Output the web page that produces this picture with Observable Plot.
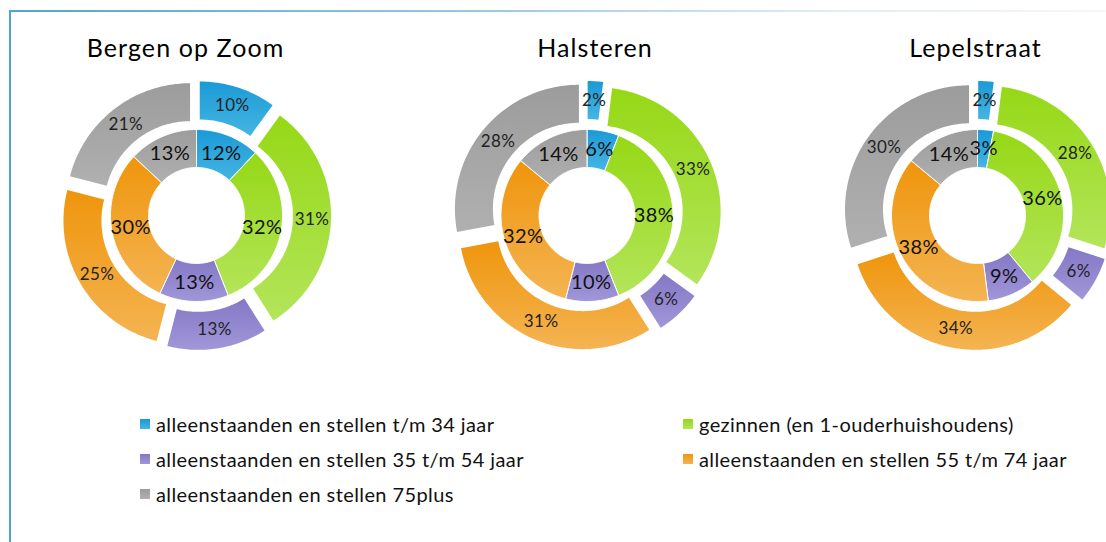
<!DOCTYPE html>
<html><head><meta charset="utf-8">
<script src="https://cdn.jsdelivr.net/npm/d3@7"></script>
<script src="https://cdn.jsdelivr.net/npm/@observablehq/plot@0.6"></script>
<style>
html,body{margin:0;padding:0;background:#fff;}
#wrap{position:relative;width:1106px;height:542px;overflow:hidden;background:#fff;font-family:Lato,"Open Sans",sans-serif;}
#frameL{position:absolute;left:9px;top:10px;width:2px;height:540px;background:#4ea7cb;}
#frameT{position:absolute;left:9px;top:10px;width:1097px;height:2px;background:linear-gradient(to right,#4ea7cb,#9ccbe0 45%,#e3edf2 75%,#f7f7f7);}
#chart{position:absolute;left:0;top:0;}
#legend{position:absolute;left:140px;top:412px;display:grid;grid-template-columns:543px auto;row-gap:11px;font-size:20px;letter-spacing:0.4px;color:#111;}
.item{display:flex;align-items:center;height:24px;white-space:nowrap;}
.sw{width:10px;height:10px;margin-right:6px;flex:none;}
</style></head>
<body>
<div id="wrap">
  <div id="frameL"></div><div id="frameT"></div>
  <div id="chart"></div>
  <div id="legend"></div>
</div>
<script>
// ---- data ----
const towns = ["Bergen op Zoom", "Halsteren", "Lepelstraat"];
const categories = [
  "alleenstaanden en stellen t/m 34 jaar",
  "gezinnen (en 1-ouderhuishoudens)",
  "alleenstaanden en stellen 35 t/m 54 jaar",
  "alleenstaanden en stellen 55 t/m 74 jaar",
  "alleenstaanden en stellen 75plus"
];
const innerBergen = [12, 32, 13, 30, 13];
const outerBergen = [10, 31, 13, 25, 21];
const innerHalsteren = [6, 38, 10, 32, 14];
const outerHalsteren = [2, 33, 6, 31, 28];
const innerLepelstraat = [3, 36, 9, 38, 14];
const outerLepelstraat = [2, 28, 6, 34, 30];
const colors = ["#25a3dc", "#a2dc34", "#9388d0", "#f1a12c", "#a6a6a6"];
const colorsTop = ["#1b9ad6", "#96d816", "#8577c6", "#ef950c", "#9c9c9c"];
const colorsBottom = ["#45b5e3", "#b3e55a", "#a097d8", "#f4b452", "#b0b0b0"];

const innerValues = [innerBergen, innerHalsteren, innerLepelstraat];
const outerValues = [outerBergen, outerHalsteren, outerLepelstraat];

// ---- layout (px) ----
const W = 1106, H = 380;
const k = 124;                 // px per radius unit
const cx0 = 196, cy0 = 215;    // first donut centre
const spacing = 390.5 / k;     // distance between donut centres
const rHole = 48 / k, rMid = 86 / k, rOut = 1, explode = 10.5 / k;
const titleY = (48 - cy0) / k;
const titleShift = [-11, 8, -2];

// ---- geometry ----
const polys = [], labels = [];
towns.forEach((town, ti) => {
  const cx = ti * spacing;
  [["inner", innerValues[ti], rHole, rMid, 0], ["outer", outerValues[ti], rMid, rOut, explode]].forEach(([ring, vals, r0, r1, ex]) => {
    const total = d3.sum(vals);
    let acc = 0;
    vals.forEach((v, ci) => {
      const a0 = acc / total * 2 * Math.PI;
      acc += v;
      const a1 = acc / total * 2 * Math.PI;
      const am = (a0 + a1) / 2;
      const ox = cx + ex * Math.sin(am), oy = -ex * Math.cos(am);
      const n = Math.max(2, Math.ceil((a1 - a0) / (Math.PI / 180)));
      const key = town + "|" + ring + "|" + ci;
      const pts = [];
      for (let i = 0; i <= n; i++) { const a = a0 + (a1 - a0) * i / n; pts.push([r1, a]); }
      for (let i = n; i >= 0; i--) { const a = a0 + (a1 - a0) * i / n; pts.push([r0, a]); }
      pts.push(pts[0]);
      pts.forEach(([r, a]) => polys.push({key, ring, cat: categories[ci], x: ox + r * Math.sin(a), y: oy - r * Math.cos(a)}));
      const rl = (r0 + r1) / 2;
      labels.push({ring, text: v + "%", x: ox + rl * Math.sin(am), y: oy - rl * Math.cos(am)});
    });
  });
});

const chart = Plot.plot({
  width: W, height: H, margin: 0,
  style: {background: "transparent", fontFamily: "Lato, 'Open Sans', sans-serif"},
  x: {domain: [-cx0 / k, (W - cx0) / k], range: [0, W], axis: null},
  y: {domain: [-cy0 / k, (H - cy0) / k], range: [0, H], axis: null},
  color: {domain: categories, range: colors},
  marks: [
    Plot.line(polys.filter(d => d.ring === "outer"), {x: "x", y: "y", z: "key", fill: "cat", stroke: "none", curve: "linear"}),
    Plot.line(polys.filter(d => d.ring === "inner"), {x: "x", y: "y", z: "key", fill: "cat", stroke: "white", strokeWidth: 1, curve: "linear"}),
    Plot.text(labels.filter(d => d.ring === "inner"), {x: "x", y: "y", text: "text", fontSize: 20, fill: "#111"}),
    Plot.text(labels.filter(d => d.ring === "outer"), {x: "x", y: "y", text: "text", fontSize: 17, fill: "#222"}),
    Plot.text(towns, {x: (d, i) => i * spacing + titleShift[i] / k, y: () => titleY, text: d => d, fontSize: 25, fill: "#000"})
  ]
});
document.getElementById("chart").appendChild(chart);

const svg = d3.select(chart);
// letter spacing on the texts (Calibri-like width)
svg.selectAll("text").each(function () {
  const t = this.textContent;
  if (towns.includes(t)) this.setAttribute("letter-spacing", "1.1");
  else if (t.endsWith("%")) this.setAttribute("letter-spacing", "0.4");
});
// Excel-like vertical gradients on the slices
const defs = svg.insert("defs", ":first-child");
colors.forEach((c, i) => {
  const g = defs.append("linearGradient").attr("id", "grad" + i).attr("x1", 0).attr("y1", 0).attr("x2", 0).attr("y2", 1);
  g.append("stop").attr("offset", "0%").attr("stop-color", colorsTop[i]);
  g.append("stop").attr("offset", "100%").attr("stop-color", colorsBottom[i]);
});
svg.selectAll("path").each(function () {
  const f = (this.getAttribute("fill") || "").toLowerCase();
  const i = colors.indexOf(f);
  if (i >= 0) this.setAttribute("fill", `url(#grad${i})`);
});

const legend = document.getElementById("legend");
categories.forEach((c, i) => {
  const item = document.createElement("div");
  item.className = "item";
  const sw = document.createElement("span");
  sw.className = "sw"; sw.style.background = `linear-gradient(${colorsTop[i]}, ${colorsBottom[i]})`;
  item.appendChild(sw);
  item.appendChild(document.createTextNode(c));
  legend.appendChild(item);
});
</script>
</body></html>
